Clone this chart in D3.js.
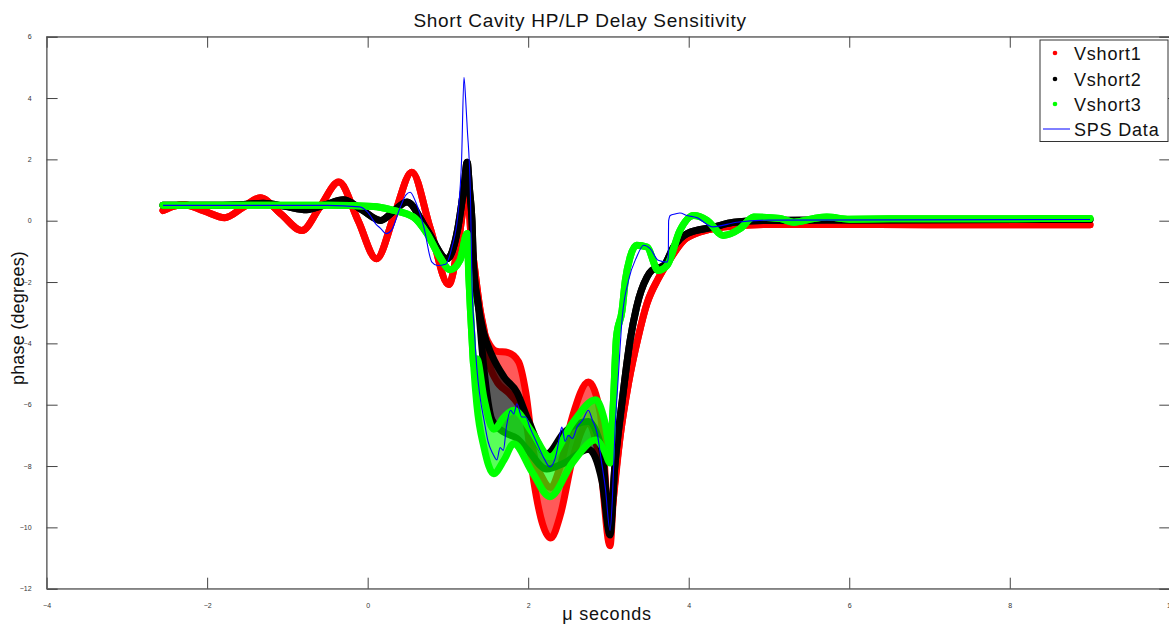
<!DOCTYPE html>
<html>
<head>
<meta charset="utf-8">
<script src="https://cdn.jsdelivr.net/npm/d3@7"></script>
<style>
  html, body { margin: 0; padding: 0; background: #fff; }
  svg { display: block; font-family: "Liberation Sans", Arial, Helvetica, sans-serif; }
</style>
</head>
<body>
<svg id="chart" width="1169" height="625"></svg>
<script>
// Simulated phase response for three short-cavity settings, plus measured SPS data.
// Each simulated series has an upper and lower trace: where the simulation ripples
// quickly, the plotted samples fill the band between the two.
const xTicks = [-4, -2, 0, 2, 4, 6, 8, 10];
const yTicks = [-12, -10, -8, -6, -4, -2, 0, 2, 4, 6];

const vshort1X  = [-2.55,-2.42,-2.30,-2.04,-1.78,-1.56,-1.34,-1.08,-0.82,-0.59,-0.36,-0.12,0.11,0.33,0.55,0.78,1.01,1.13,1.20,1.24,1.29,1.33,1.40,1.46,1.50,1.60,1.75,1.88,1.97,2.07,2.18,2.28,2.40,2.55,2.75,2.90,3.02,3.06,3.15,3.25,3.37,3.48,3.62,3.77,3.94,4.14,4.43,4.93,5.72,7.00,9.00];
const vshort1Hi = [0.33,0.47,0.53,0.32,0.10,0.42,0.75,0.22,-0.32,0.47,1.26,0.01,-1.24,0.17,1.58,-0.25,-2.08,-0.70,0.60,1.25,-0.60,-1.50,-2.90,-3.70,-3.95,-4.25,-4.30,-4.60,-5.60,-7.60,-8.40,-8.70,-8.00,-6.40,-5.26,-6.30,-10.00,-9.10,-6.95,-5.30,-3.80,-2.70,-1.89,-1.24,-0.64,-0.37,-0.21,-0.12,-0.12,-0.13,-0.13];
const vshort1Lo = [0.33,0.47,0.53,0.32,0.10,0.42,0.75,0.22,-0.32,0.47,1.26,0.01,-1.24,0.17,1.58,-0.25,-2.08,-0.70,0.60,1.25,-0.60,-1.50,-2.90,-3.70,-4.50,-5.20,-5.60,-6.00,-6.50,-8.50,-9.90,-10.35,-9.60,-7.80,-6.60,-8.00,-10.60,-9.10,-6.95,-5.30,-3.80,-2.70,-1.89,-1.24,-0.64,-0.37,-0.21,-0.12,-0.12,-0.13,-0.13];

const vshort2X  = [-2.55,-2.00,-1.60,-1.30,-1.03,-0.76,-0.53,-0.30,-0.07,0.16,0.33,0.49,0.74,0.99,1.12,1.20,1.24,1.27,1.30,1.32,1.38,1.44,1.55,1.70,1.86,2.00,2.23,2.45,2.75,2.92,3.02,3.08,3.17,3.27,3.35,3.48,3.54,3.69,3.81,3.98,4.31,4.56,4.93,5.72,9.00];
const vshort2Hi = [0.50,0.50,0.52,0.57,0.47,0.36,0.52,0.68,0.35,0.01,0.33,0.61,-0.30,-1.24,-0.30,1.10,1.91,1.00,0.00,-1.50,-2.80,-3.60,-4.40,-5.10,-5.60,-6.50,-7.60,-6.90,-6.55,-7.50,-10.00,-8.00,-5.90,-3.90,-2.82,-1.84,-1.62,-1.46,-0.86,-0.42,-0.21,-0.05,0.01,0.02,0.04];
const vshort2Lo = [0.50,0.50,0.52,0.57,0.47,0.36,0.52,0.68,0.35,0.01,0.33,0.61,-0.30,-1.24,-0.30,1.10,1.91,1.00,0.00,-1.50,-2.80,-4.60,-6.50,-6.90,-7.10,-7.50,-8.10,-7.90,-7.45,-8.50,-10.25,-8.00,-5.90,-3.90,-2.82,-1.84,-1.62,-1.46,-0.86,-0.42,-0.21,-0.05,0.01,0.02,0.04];

const vshort3X  = [-2.55,-1.50,-0.50,0.07,0.30,0.57,0.74,0.90,1.03,1.15,1.24,1.26,1.28,1.30,1.32,1.36,1.45,1.57,1.70,1.82,2.05,2.27,2.55,2.84,2.95,3.02,3.06,3.10,3.17,3.21,3.27,3.35,3.48,3.62,3.73,3.89,4.06,4.23,4.43,4.64,4.81,5.14,5.31,5.56,5.72,6.00,6.50,9.00];
const vshort3Hi = [0.50,0.50,0.50,0.46,0.35,0.12,-0.42,-1.19,-1.60,-1.29,-0.42,-1.80,-2.90,-3.85,-4.70,-4.50,-5.80,-6.80,-6.40,-6.18,-6.90,-7.70,-6.60,-5.84,-6.50,-7.40,-6.00,-3.80,-2.92,-1.95,-1.19,-0.80,-0.86,-1.62,-1.46,-0.32,0.17,0.01,-0.48,-0.26,0.12,0.07,-0.05,0.07,0.12,0.05,0.06,0.07];
const vshort3Lo = [0.50,0.50,0.50,0.46,0.35,0.12,-0.42,-1.19,-1.60,-1.29,-0.42,-1.80,-2.90,-3.85,-4.70,-6.00,-7.40,-8.25,-7.80,-7.27,-8.20,-9.00,-7.90,-7.15,-7.50,-7.90,-6.00,-3.80,-2.92,-1.95,-1.19,-0.80,-0.86,-1.62,-1.46,-0.32,0.17,0.01,-0.48,-0.26,0.12,0.07,-0.05,0.07,0.12,0.05,0.06,0.07];

const spsX = [-2.55,-0.50,-0.10,0.00,0.10,0.16,0.23,0.30,0.40,0.48,0.53,0.60,0.70,0.80,0.87,0.97,1.05,1.13,1.17,1.20,1.22,1.24,1.28,1.30,1.33,1.36,1.40,1.45,1.50,1.56,1.61,1.65,1.69,1.73,1.78,1.82,1.86,1.92,1.97,2.02,2.10,2.19,2.27,2.33,2.36,2.40,2.42,2.46,2.50,2.55,2.61,2.68,2.75,2.80,2.86,2.91,2.96,3.02,3.05,3.08,3.12,3.17,3.25,3.35,3.44,3.52,3.62,3.73,3.745,3.75,3.77,3.83,3.89,3.98,4.10,4.30,4.60,5.00,9.00];
const spsY = [0.50,0.50,0.45,0.28,-0.10,-0.25,-0.42,-0.30,0.40,0.85,0.93,0.60,-0.21,-1.35,-1.46,-1.42,-0.86,0.34,1.97,4.68,4.00,3.05,0.88,-2.05,-3.60,-4.80,-5.75,-6.50,-7.20,-7.60,-7.80,-7.40,-7.49,-6.70,-6.18,-6.30,-5.97,-6.40,-6.40,-6.73,-7.20,-7.71,-8.03,-7.80,-7.49,-6.90,-6.73,-7.20,-7.00,-7.10,-6.73,-6.50,-6.18,-6.50,-6.94,-7.80,-8.69,-10.10,-9.00,-6.94,-5.20,-3.20,-1.95,-1.19,-0.80,-0.91,-1.29,-1.35,-1.20,0.00,0.17,0.22,0.25,0.17,0.10,-0.20,-0.05,0.02,0.04];

const seriesNames = ["Vshort1", "Vshort2", "Vshort3", "SPS Data"];
const seriesColors = ["#ff0000", "#000000", "#00ff00", "#0000ff"];

const svg = d3.select("#chart");
const margin = { left: 46.6, right: 1170.3, top: 36.7, bottom: 588.7 };

const x = d3.scaleLinear().domain([-4, 10]).range([margin.left, margin.right]);
const y = d3.scaleLinear().domain([-12, 6]).range([margin.bottom, margin.top]);

const axisColor = "#6e6e6e";
const tickLen = 11;

// Frame
svg.append("rect")
  .attr("x", margin.left).attr("y", margin.top)
  .attr("width", margin.right - margin.left).attr("height", margin.bottom - margin.top)
  .attr("fill", "none").attr("stroke", axisColor).attr("stroke-width", 1);

// Axes with inward ticks on all four sides
const gx = svg.append("g").attr("transform", `translate(0,${margin.bottom})`)
  .call(d3.axisBottom(x).tickValues(xTicks).tickSize(-tickLen).tickPadding(tickLen + 3).tickFormat(d3.format("d")));
const gxTop = svg.append("g").attr("transform", `translate(0,${margin.top})`)
  .call(d3.axisTop(x).tickValues(xTicks).tickSize(-tickLen).tickFormat(""));
const gy = svg.append("g").attr("transform", `translate(${margin.left},0)`)
  .call(d3.axisLeft(y).tickValues(yTicks).tickSize(-tickLen).tickPadding(tickLen + 4).tickFormat(d3.format("d")));
const gyRight = svg.append("g").attr("transform", `translate(${margin.right},0)`)
  .call(d3.axisRight(y).tickValues(yTicks).tickSize(-tickLen).tickFormat(""));

[gx, gxTop, gy, gyRight].forEach(g => {
  g.select(".domain").attr("stroke", axisColor);
  g.selectAll(".tick line").attr("stroke", "#444");
  g.selectAll(".tick text").attr("fill", "#333").style("font-size", "7px")
    .style("font-family", "Liberation Sans, Arial, sans-serif");
});

// Simulated series: band between upper and lower traces, edged by thick sample traces
const simSeries = [
  { xs: vshort1X, hi: vshort1Hi, lo: vshort1Lo, color: seriesColors[0] },
  { xs: vshort2X, hi: vshort2Hi, lo: vshort2Lo, color: seriesColors[1] },
  { xs: vshort3X, hi: vshort3Hi, lo: vshort3Lo, color: seriesColors[2] }
];

const curve = d3.curveMonotoneX;
simSeries.forEach(s => {
  const pts = s.xs.map((v, i) => ({ x: v, hi: s.hi[i], lo: s.lo[i] }));
  const g = svg.append("g");
  g.append("path")
    .attr("d", d3.area().curve(curve).x(d => x(d.x)).y0(d => y(d.lo)).y1(d => y(d.hi))(pts))
    .attr("fill", s.color).attr("fill-opacity", 0.65);
  ["hi", "lo"].forEach(k => {
    g.append("path")
      .attr("d", d3.line().curve(curve).x(d => x(d.x)).y(d => y(d[k]))(pts))
      .attr("fill", "none").attr("stroke", s.color)
      .attr("stroke-width", 7).attr("stroke-linecap", "round").attr("stroke-linejoin", "round");
  });
});

// Measured SPS data
const spsPts = spsX.map((v, i) => ({ x: v, y: spsY[i] }));
svg.append("path")
  .attr("d", d3.line().curve(curve).x(d => x(d.x)).y(d => y(d.y))(spsPts))
  .attr("fill", "none").attr("stroke", seriesColors[3]).attr("stroke-width", 1.1);

// Title and axis labels
svg.append("text").attr("x", 580).attr("y", 27).attr("text-anchor", "middle")
  .style("font-size", "19px").style("letter-spacing", "0.7px").attr("fill", "#111")
  .text("Short Cavity HP/LP Delay Sensitivity");
svg.append("text").attr("x", 607).attr("y", 620).attr("text-anchor", "middle")
  .style("font-size", "18px").style("letter-spacing", "0.8px").attr("fill", "#111").text("μ seconds");
svg.append("text").attr("transform", "translate(24,318) rotate(-90)").attr("text-anchor", "middle")
  .style("font-size", "18px").style("letter-spacing", "0.2px").attr("fill", "#111").text("phase (degrees)");

// Legend
const lg = svg.append("g");
lg.append("rect").attr("x", 1040).attr("y", 40).attr("width", 128).attr("height", 101.5)
  .attr("fill", "#fff").attr("stroke", "#333").attr("stroke-width", 1);
const rowY = [53, 79, 104, 129];
seriesNames.forEach((name, i) => {
  if (i < 3) {
    lg.append("circle").attr("cx", 1055).attr("cy", rowY[i]).attr("r", 2.3).attr("fill", seriesColors[i]);
  } else {
    lg.append("line").attr("x1", 1043).attr("x2", 1070).attr("y1", rowY[i]).attr("y2", rowY[i])
      .attr("stroke", seriesColors[i]).attr("stroke-width", 1);
  }
  lg.append("text").attr("x", 1074).attr("y", rowY[i] + 6.5).style("font-size", "18px")
    .style("letter-spacing", "0.8px").attr("fill", "#111").text(name);
});
</script>
</body>
</html>
